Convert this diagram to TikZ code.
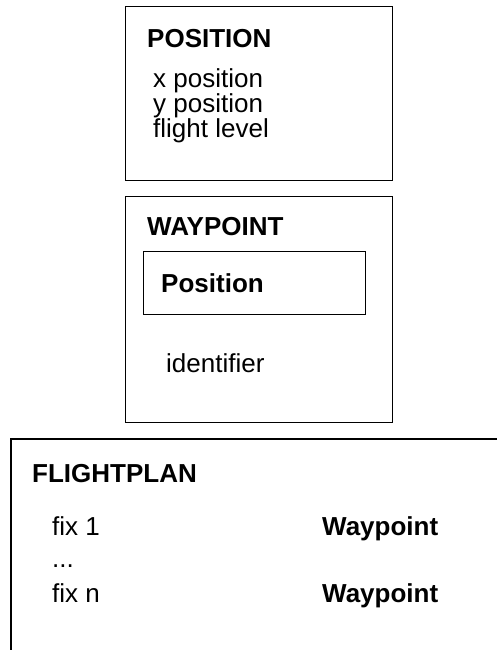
\documentclass[tikz,border=0pt]{standalone}
\usepackage{fontspec}
\setmainfont{Liberation Sans}
\usetikzlibrary{positioning}

\begin{document}
\begin{tikzpicture}[
  x=1pt, y=-1pt,
  font=\fontsize{26}{26}\selectfont,
  frame/.style={draw, line width=1.3pt, inner sep=0pt, anchor=north west},
  lbl/.style={inner sep=0pt, anchor=base west},
  hdr/.style={lbl, font=\fontsize{26}{26}\selectfont\bfseries},
]
\useasboundingbox (0,0) rectangle (497,650);

% --- position record ---
\node[frame, minimum width=267pt, minimum height=174pt] (posbox) at (125,6) {};
\node[hdr] (postitle) at (147,47.5) {POSITION};
\node[lbl] (xpos)   at (153,88)  {x position};
\node[lbl] (ypos)   at (153,113) {y position};
\node[lbl] (flevel) at (153,138) {flight level};

% --- waypoint record, holds a position ---
\node[frame, minimum width=267pt, minimum height=226pt] (wpbox) at (125,196) {};
\node[hdr] (wptitle) at (147,235) {WAYPOINT};
\node[frame, minimum width=222pt, minimum height=63pt] (wppos) at (143,251) {};
\node[hdr] (wpposlbl) at (161,292.5) {Position};
\node[lbl] (ident) at (166,372) {identifier};

% --- flightplan record (runs off the page right and bottom) ---
\draw[line width=1.3pt] (11,650) -- (11,439) -- (497,439);
\node[hdr] (fptitle) at (32,482) {FLIGHTPLAN};
\node[lbl] (fixa)  at (52,535) {fix 1};
\node[lbl] (dots)  at (52,567) {...};
\node[lbl] (fixn)  at (52,602) {fix n};
\node[hdr] (wpa) at (322,535) {Waypoint};
\node[hdr] (wpn) at (322,602) {Waypoint};

\end{tikzpicture}
\end{document}
